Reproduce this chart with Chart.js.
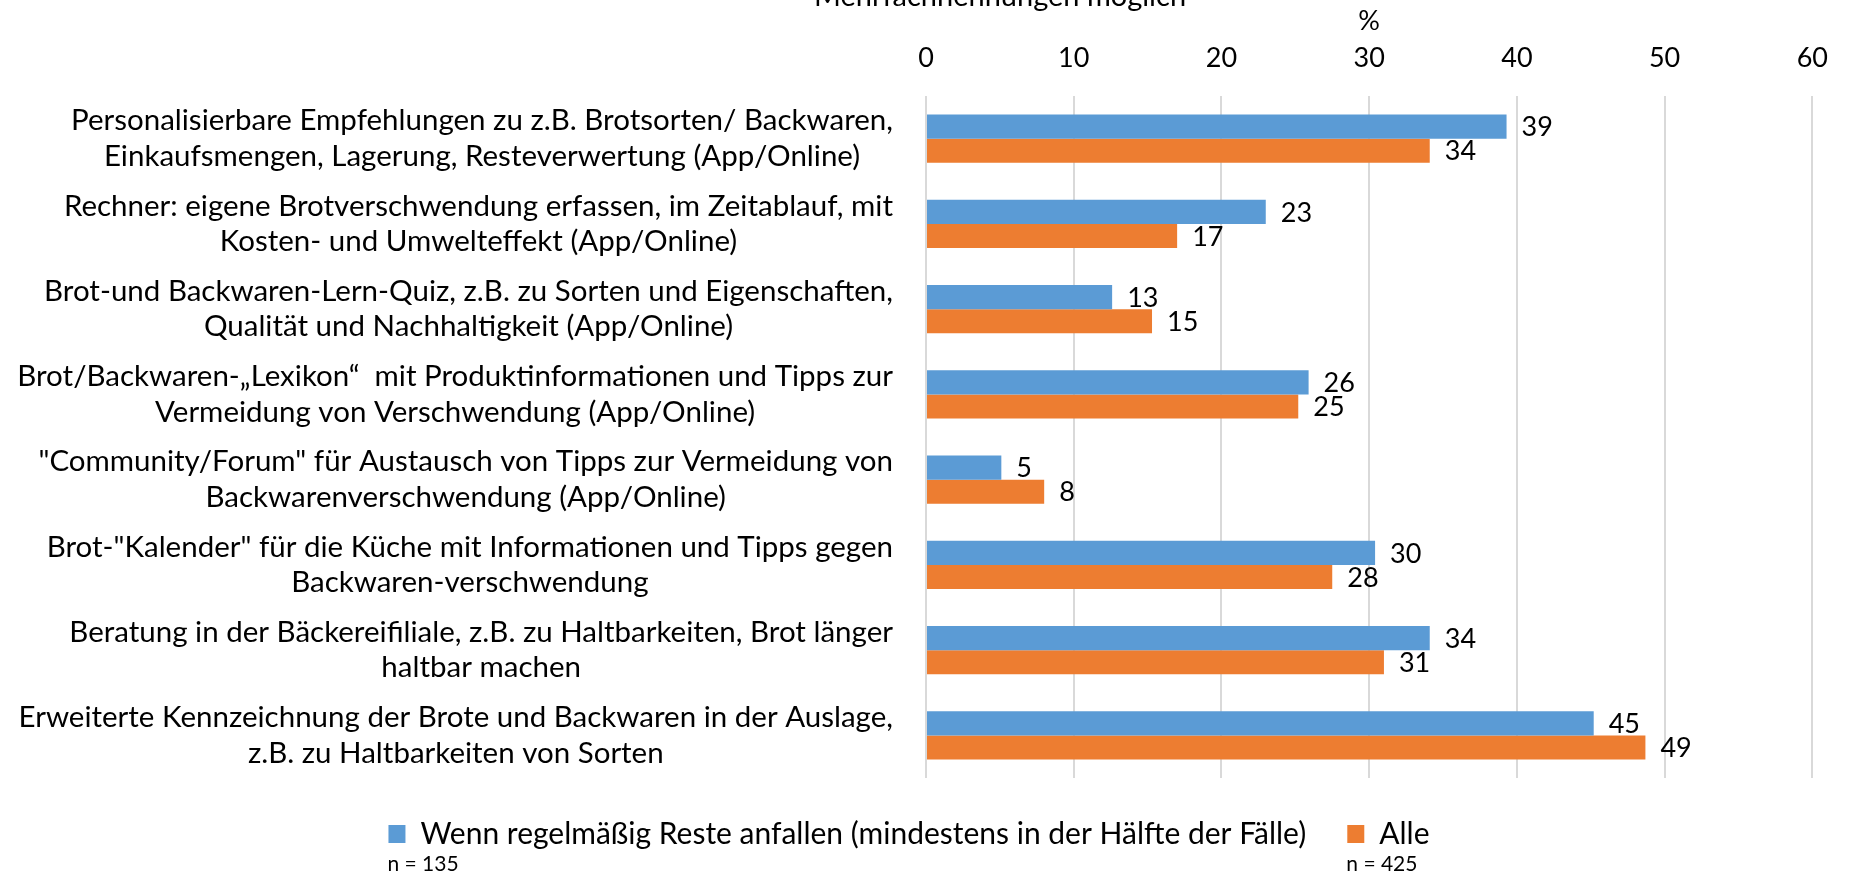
<!DOCTYPE html>
<html>
<head>
<meta charset="utf-8">
<script src="https://cdn.jsdelivr.net/npm/chart.js@4.4.0/dist/chart.umd.min.js"></script>
<style>
html, body { margin: 0; padding: 0; background: #fff; }
#wrap { width: 1850px; height: 873px; position: relative; }
</style>
</head>
<body>
<div id="wrap"><canvas id="grafico"></canvas></div>
<script>
const kategorien = [
    ['Personalisierbare Empfehlungen zu z.B. Brotsorten/ Backwaren,', 'Einkaufsmengen, Lagerung, Resteverwertung (App/Online)'],
    ['Rechner: eigene Brotverschwendung erfassen, im Zeitablauf, mit', 'Kosten- und Umwelteffekt (App/Online)'],
    ['Brot-und Backwaren-Lern-Quiz, z.B. zu Sorten und Eigenschaften,', 'Qualität und Nachhaltigkeit (App/Online)'],
    ['Brot/Backwaren-„Lexikon“  mit Produktinformationen und Tipps zur', 'Vermeidung von Verschwendung (App/Online)'],
    ['"Community/Forum" für Austausch von Tipps zur Vermeidung von', 'Backwarenverschwendung (App/Online)'],
    ['Brot-"Kalender" für die Küche mit Informationen und Tipps gegen', 'Backwaren-verschwendung'],
    ['Beratung in der Bäckereifiliale, z.B. zu Haltbarkeiten, Brot länger', 'haltbar machen'],
    ['Erweiterte Kennzeichnung der Brote und Backwaren in der Auslage,', 'z.B. zu Haltbarkeiten von Sorten']
];
const regelmaessigReste = [39.3, 23.0, 12.6, 25.9, 5.1, 30.4, 34.1, 45.2];
const alle = [34.1, 17.0, 15.3, 25.2, 8.0, 27.5, 31.0, 48.7];
const serienNamen = ['Wenn regelmäßig Reste anfallen (mindestens in der Hälfte der Fälle)', 'Alle'];
const stichproben = ['n = 135', 'n = 425'];
const achseMin = 0;
const achseMax = 60;
const achseSchritt = 10;
const achsenTitel = '%';
const untertitel = 'Mehrfachnennungen möglich';

const FONT = 'Lato';

// mehrzeilige Kategorien: Block rechtsbündig, Zeilen darin zentriert
const kategorieLabels = {
    id: 'kategorieLabels',
    afterDraw(chart){
        const ctx = chart.ctx;
        const yScale = chart.scales.y;
        const rechts = yScale.right - 33;
        const zeilenHoehe = 35.4;
        ctx.save();
        ctx.font = '29.5px ' + FONT;
        ctx.fillStyle = '#000';
        ctx.textAlign = 'center';
        ctx.textBaseline = 'middle';
        chart.data.labels.forEach((zeilen, i) => {
            const y = yScale.getPixelForTick(i);
            const breite = Math.max(...zeilen.map(z => ctx.measureText(z).width));
            const mitte = rechts - breite / 2;
            zeilen.forEach((z, j) => {
                ctx.fillText(z, mitte, y + (j - (zeilen.length - 1) / 2) * zeilenHoehe);
            });
        });
        ctx.restore();
    }
};

const wertLabels = {
    id: 'wertLabels',
    afterDatasetsDraw(chart){
        const ctx = chart.ctx;
        ctx.save();
        ctx.font = '27px ' + FONT;
        ctx.fillStyle = '#000';
        ctx.textAlign = 'left';
        ctx.textBaseline = 'middle';
        chart.data.datasets.forEach((ds, d) => {
            chart.getDatasetMeta(d).data.forEach((bar, i) => {
                ctx.fillText(Math.round(ds.data[i]), bar.x + 15, bar.y + 1);
            });
        });
        ctx.restore();
    }
};

const obenText = {
    id: 'obenText',
    afterDraw(chart){
        const ctx = chart.ctx;
        ctx.save();
        ctx.font = '29px ' + FONT;
        ctx.fillStyle = '#000';
        ctx.textAlign = 'center';
        ctx.textBaseline = 'alphabetic';
        ctx.fillText(untertitel, 1000, 6);
        ctx.restore();
    }
};

const stichprobenText = {
    id: 'stichprobenText',
    afterDraw(chart){
        const legend = chart.legend;
        if(!legend || !legend.legendHitBoxes) return;
        const ctx = chart.ctx;
        ctx.save();
        ctx.font = '21px ' + FONT;
        ctx.fillStyle = '#000';
        ctx.textAlign = 'left';
        ctx.textBaseline = 'middle';
        legend.legendHitBoxes.forEach((box, i) => {
            ctx.fillText(stichproben[i], box.left - 1, 864);
        });
        ctx.restore();
    }
};

function setupGrafico(chartId){
    const ctx = document.getElementById(chartId).getContext('2d');
    const data = {
        labels: kategorien,
        datasets: [
            {
                label: serienNamen[0],
                data: regelmaessigReste,
                backgroundColor: '#5B9BD5',
                borderWidth: 0
            },
            {
                label: serienNamen[1],
                data: alle,
                backgroundColor: '#ED7D31',
                borderWidth: 0
            }
        ]
    };
    const options = {
        indexAxis: 'y',
        responsive: true,
        maintainAspectRatio: false,
        animation: false,
        layout: { padding: { top: 0, right: 32, bottom: 14, left: 0 } },
        datasets: { bar: { categoryPercentage: 0.564, barPercentage: 1.0 } },
        scales: {
            x: {
                position: 'top',
                min: achseMin,
                max: achseMax,
                ticks: {
                    stepSize: achseSchritt,
                    padding: 22,
                    color: '#000',
                    font: { family: FONT, size: 27 }
                },
                grid: { color: '#D9D9D9', lineWidth: 2, drawTicks: false },
                border: { display: false },
                title: {
                    display: true,
                    text: achsenTitel,
                    color: '#000',
                    font: { family: FONT, size: 27 },
                    padding: { top: 5, bottom: 0 }
                },
                afterFit(scale){ scale.height = 96; }
            },
            y: {
                ticks: { display: false },
                grid: { display: false },
                border: { display: false },
                afterFit(scale){ scale.width = 926; }
            }
        },
        plugins: {
            legend: {
                position: 'bottom',
                labels: {
                    color: '#000',
                    font: { family: FONT, size: 30 },
                    boxWidth: 17,
                    boxHeight: 18,
                    padding: 41
                }
            },
            tooltip: { enabled: false }
        }
    };
    return new Chart(ctx, {
        type: 'bar',
        data: data,
        options: options,
        plugins: [kategorieLabels, wertLabels, obenText, stichprobenText]
    });
}

setupGrafico('grafico');
</script>
</body>
</html>
